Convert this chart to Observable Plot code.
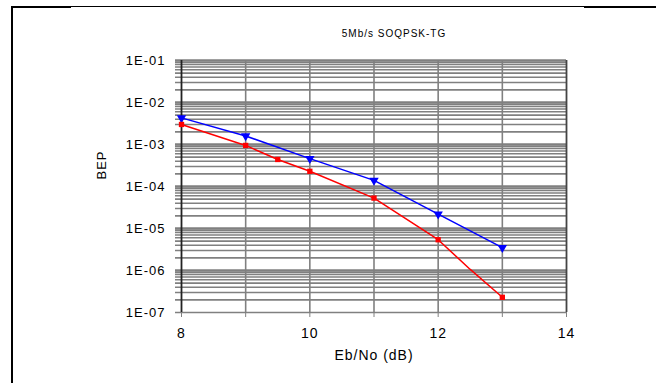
<!DOCTYPE html>
<html>
<head>
<meta charset="utf-8">
<script src="https://cdn.jsdelivr.net/npm/d3@7"></script>
<script src="https://cdn.jsdelivr.net/npm/@observablehq/plot@0.6"></script>
<style>
  html, body { margin: 0; padding: 0; background: #fff; }
  #wrap { position: relative; width: 656px; height: 383px; overflow: hidden; }
  .bl { position: absolute; background: #000; }
  svg text { letter-spacing: 1px; }
</style>
</head>
<body>
<div id="wrap">
  <div class="bl" style="left:11px; top:6px; width:2px; height:377px;"></div>
  <div class="bl" style="left:11px; top:6px; width:645px; height:1px;"></div>
  <div class="bl" style="left:11px; top:6px; width:60px; height:2px;"></div>
  <div class="bl" style="left:584px; top:6px; width:72px; height:2px;"></div>
</div>
<script>
const title = "5Mb/s SOQPSK-TG";
const xLabel = "Eb/No (dB)";
const yLabel = "BEP";

const xTicks = [8, 9, 10, 11, 12, 13, 14];
const xTickLabels = [8, 10, 12, 14];
const yMajor = [1e-7, 1e-6, 1e-5, 1e-4, 1e-3, 1e-2, 1e-1];
const yTickLabels = ["1E-07", "1E-06", "1E-05", "1E-04", "1E-03", "1E-02", "1E-01"];

// blue series (triangle markers)
const blueSnr = [8, 9, 10, 11, 12, 13];
const blueBep = [4.3e-3, 1.6e-3, 4.6e-4, 1.4e-4, 2.2e-5, 3.5e-6];

// red series (square markers)
const redSnr = [8, 9, 9.5, 10, 11, 12, 12.5, 13];
const redBep = [3.0e-3, 9.5e-4, 4.4e-4, 2.3e-4, 5.3e-5, 5.4e-6, 1.06e-6, 2.3e-7];
const redMarked = [true, true, true, true, true, true, false, true];

const blue = blueSnr.map((x, i) => ({x, y: blueBep[i]}));
const red = redSnr.map((x, i) => ({x, y: redBep[i], m: redMarked[i]}));

const minorY = [];
for (let k = -7; k <= -2; k++) for (let m = 2; m <= 9; m++) minorY.push(m * Math.pow(10, k));

const plot = Plot.plot({
  width: 656,
  height: 383,
  marginLeft: 181,
  marginRight: 90,
  marginTop: 60,
  marginBottom: 71,
  style: {fontFamily: "Arial, 'Liberation Sans', sans-serif", fontSize: "13px", color: "#000", background: "transparent", overflow: "visible"},
  x: {domain: [8, 14]},
  y: {type: "log", domain: [1e-7, 1e-1]},
  marks: [
    Plot.ruleY(minorY, {stroke: "#808080", strokeWidth: 1.6, insetLeft: -6}),
    Plot.ruleY(yMajor.slice(1), {stroke: "#808080", strokeWidth: 2.6, insetLeft: -6}),
    Plot.ruleX(xTicks.slice(1, -1), {stroke: "#808080", strokeWidth: 1.6}),
    Plot.ruleY([1e-7], {stroke: "#808080", strokeWidth: 1.4, insetLeft: -6}),
    Plot.ruleX([8], {stroke: "#222", strokeWidth: 1.8}),
    Plot.ruleX([14], {stroke: "#444", strokeWidth: 1.8}),
    Plot.axisX({ticks: xTicks, tickSize: 5, stroke: "#808080", tickPadding: 11, fontSize: 14, label: null,
      tickFormat: d => xTickLabels.includes(d) ? String(d) : ""}),
    Plot.axisY({ticks: yMajor, tickSize: 0, tickPadding: 16, fontSize: 13, label: null,
      tickFormat: d => yTickLabels[yMajor.findIndex(v => Math.abs(Math.log10(v) - Math.log10(d)) < 1e-6)]}),
    Plot.line(blue, {x: "x", y: "y", stroke: "#0000ff", strokeWidth: 1.5}),
    Plot.line(red, {x: "x", y: "y", stroke: "#ff0000", strokeWidth: 1.5}),
    Plot.dot(blue, {x: "x", y: "y", symbol: "triangle", rotate: 180, r: 3.5, fill: "#0000ff"}),
    Plot.dot(red.filter(d => d.m), {x: "x", y: "y", symbol: "square", r: 3, fill: "#ff0000"}),
    Plot.text([xLabel], {frameAnchor: "bottom", dy: 47, fontSize: 14, text: d => d}),
    Plot.text([yLabel], {frameAnchor: "left", dx: -80, dy: -7, rotate: -90, fontSize: 13, text: d => d}),
    Plot.text([title], {frameAnchor: "top", dy: -31, dx: 20, fontSize: 10, text: d => d})
  ]
});
plot.style.position = "absolute";
plot.style.left = "0px";
plot.style.top = "0px";
document.getElementById("wrap").appendChild(plot);
</script>
</body>
</html>
